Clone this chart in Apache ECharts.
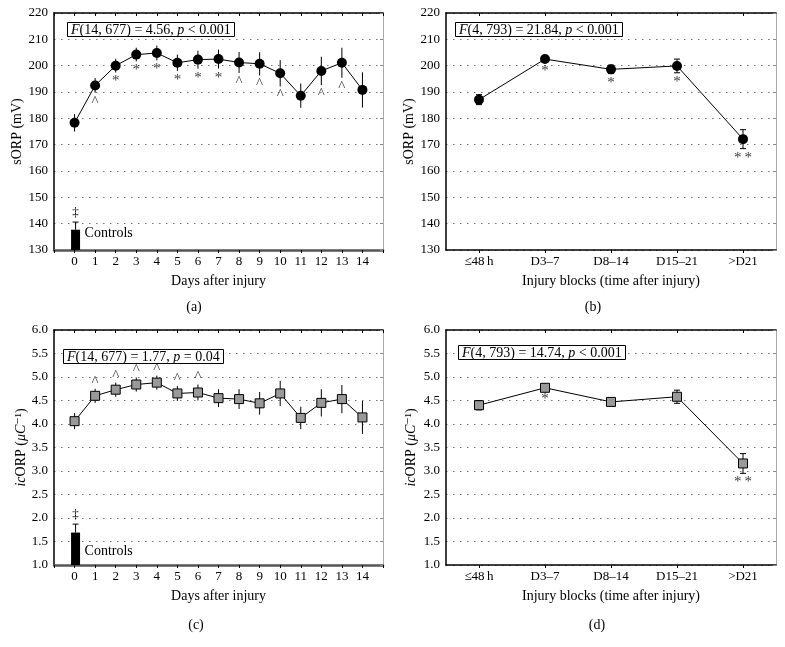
<!DOCTYPE html>
<html><head><meta charset="utf-8">
<script src="https://cdn.jsdelivr.net/npm/echarts@6/dist/echarts.min.js"></script>
<style>html,body{margin:0;padding:0;background:#fff}#c{width:785px;height:647px}</style>
</head><body><div id="c"></div>
<script>
// ---------- data ----------
const dayTicks = [0,1,2,3,4,5,6,7,8,9,10,11,12,13,14];
const blockLabels = ['\u226448\u2009h','D3\u20137','D8\u201314','D15\u201321','>D21'];

const sorpDays    = [178.3,192.5,200.0,204.2,204.8,201.1,202.3,202.5,201.2,200.7,197.1,188.6,198.0,201.1,190.8];
const sorpDaysErr = [3.3,2.8,2.6,2.6,2.8,3.1,3.4,3.6,4.0,4.4,5.0,4.6,5.4,5.7,6.7];
const sorpDaysMarks = ['','^','*','*','*','*','*','*','^','^','^','','^','^',''];
const sorpControl = 137.7, sorpControlErr = 2.9;

const sorpBlocks    = [187.1,202.5,198.6,199.9,172.1];
const sorpBlocksErr = [1.9,1.0,1.6,2.6,3.6];
const sorpBlocksMarks = ['','*','*','*','*\u2009*'];

const icorpDays    = [4.06,4.60,4.73,4.84,4.88,4.65,4.67,4.55,4.53,4.44,4.65,4.13,4.45,4.53,4.14];
const icorpDaysErr = [0.17,0.15,0.15,0.15,0.15,0.16,0.17,0.19,0.21,0.24,0.27,0.24,0.29,0.30,0.35];
const icorpDaysMarks = ['','^','^','^','^','^','^','','','','','','','',''];
const icorpControl = 1.69, icorpControlErr = 0.18;

const icorpBlocks    = [4.40,4.77,4.47,4.58,3.16];
const icorpBlocksErr = [0.10,0.04,0.06,0.14,0.21];
const icorpBlocksMarks = ['','*','','','*\u2009*'];

const statsText = [
  '{i|F}(14, 677) = 4.56, {i|p} < 0.001',
  '{i|F}(4, 793) = 21.84, {i|p} < 0.001',
  '{i|F}(14, 677) = 1.77, {i|p} = 0.04',
  '{i|F}(4, 793) = 14.74, {i|p} < 0.001'
];
const panelLetters = ['(a)','(b)','(c)','(d)'];

// ---------- styling ----------
const FONT = '"Liberation Serif", "DejaVu Serif", serif';
const chart = echarts.init(document.getElementById('c'));

const grids = [
  {left:54, top:13, width:329, height:237},
  {left:446, top:13, width:330, height:237},
  {left:54, top:330, width:329, height:235},
  {left:446, top:330, width:330, height:235}
];

const splitLine = {show:true, lineStyle:{color:'#777', width:1.2, type:[1.5,5.5]}};
const labelStyle = {color:'#000', fontFamily:FONT, fontSize:13};

const xAxes = [], yAxes = [];
[0,1,2,3].forEach(g => {
  const isDays = (g % 2 === 0);
  const base = isDays
    ? {type:'value', min:-1, max:15, interval:1}
    : {type:'category', data:blockLabels, boundaryGap:true};
  xAxes.push(Object.assign({}, base, {
    gridIndex:g, position:'bottom',
    name: isDays ? 'Days after injury' : 'Injury blocks (time after injury)',
    nameLocation:'middle', nameGap:24,
    nameTextStyle:{color:'#000', fontFamily:FONT, fontSize:14},
    axisLine:{show:true, onZero:false, lineStyle:{color: isDays ? '#555' : '#000', width: isDays ? 2.5 : 1.5}},
    axisTick:{show:true, inside:false, length:3, alignWithLabel:true, lineStyle:{color:'#000'}},
    axisLabel:Object.assign({margin:5, showMinLabel:true, showMaxLabel:true, interval:0,
      formatter: isDays ? (v => (v >= 0 && v <= 14) ? String(v) : '') : (v => v)}, labelStyle),
    splitLine:{show:false}
  }));
  xAxes.push(Object.assign({}, base, {
    gridIndex:g, position:'top',
    axisLine:{show:true, onZero:false, lineStyle:{color:'#000', width:1.5}},
    axisTick:{show:true, inside:true, length:3, alignWithLabel:true, lineStyle:{color:'#000'}},
    axisLabel:{show:false}, splitLine:{show:false}
  }));
  const isSorp = g < 2;
  const yb = isSorp ? {min:130, max:220, interval:10} : {min:1, max:6, interval:0.5};
  yAxes.push(Object.assign({type:'value', gridIndex:g, position:'left'}, yb, {
    name: isSorp ? 'sORP (mV)' : '{i|ic}ORP ({i|\u03bcC}\u207b\u00b9)',
    nameLocation:'middle', nameGap: isDays ? 20 : 28, nameRotate:90,
    nameTextStyle:{color:'#000', fontFamily:FONT, fontSize:14,
      rich:{i:{fontStyle:'italic', fontFamily:FONT, fontSize:14, color:'#000'}}},
    axisLine:{show:true, onZero:false, lineStyle:{color:'#000', width:1.5}},
    axisTick:{show:false},
    axisLabel:Object.assign({margin:6, formatter: isSorp ? (v => String(v)) : (v => v.toFixed(1))}, labelStyle),
    splitLine: splitLine
  }));
  yAxes.push(Object.assign({type:'value', gridIndex:g, position:'right'}, yb, {
    axisLine:{show:true, onZero:false, lineStyle:{color:'#aaa', width:1}},
    axisTick:{show:true, inside:true, length:3, lineStyle:{color:'#888'}},
    axisLabel:{show:false}, splitLine:{show:false}
  }));
});

function errRender(cap){
  return function(params, api){
    const x = api.value(0), y = api.value(1), e = api.value(2);
    const t = api.coord([x, y + e]), b = api.coord([x, y - e]);
    const st = {stroke:'#000', lineWidth:1};
    const ch = [{type:'line', shape:{x1:t[0], y1:t[1], x2:b[0], y2:b[1]}, style:st}];
    if (cap > 0) {
      ch.push({type:'line', shape:{x1:t[0]-cap/2, y1:t[1], x2:t[0]+cap/2, y2:t[1]}, style:st});
      ch.push({type:'line', shape:{x1:b[0]-cap/2, y1:b[1], x2:b[0]+cap/2, y2:b[1]}, style:st});
    }
    return {type:'group', children:ch};
  };
}

function ctrlRender(labelUp){
  return function(params, api){
    const v = api.value(1), e = api.value(2);
    const top = api.coord([0, v]);
    const etop = api.coord([0, v + e]);
    const bottom = params.coordSys.y + params.coordSys.height;
    const cx = top[0] + 1;
    return {type:'group', children:[
      {type:'rect', shape:{x:cx-4.5, y:top[1], width:9, height:bottom-top[1]}, style:{fill:'#000'}},
      {type:'line', shape:{x1:cx, y1:top[1], x2:cx, y2:etop[1]}, style:{stroke:'#000', lineWidth:1}},
      {type:'line', shape:{x1:cx-3, y1:etop[1], x2:cx+3, y2:etop[1]}, style:{stroke:'#000', lineWidth:1}},
      {type:'text', x:cx, y:etop[1]-10, style:{text:'\u2021', textAlign:'center', textVerticalAlign:'middle', fill:'#000', font:'13px ' + FONT}},
      {type:'text', x:cx+9, y:bottom-labelUp, style:{text:'Controls', textAlign:'left', textVerticalAlign:'middle', fill:'#000', font:'14px ' + FONT}}
    ]};
  };
}

const series = [];
function addPanel(g, vals, errs, marks, marksAbove, cap, round){
  const xi = g*2, yi = g*2;
  series.push({type:'custom', xAxisIndex:xi, yAxisIndex:yi, z:2, silent:true,
    renderItem: errRender(cap), encode:{x:0, y:1},
    data: vals.map((v,i) => [i, v, errs[i]])});
  series.push({type:'line', xAxisIndex:xi, yAxisIndex:yi, z:3, silent:true,
    data: vals.map((v,i) => [i, v]),
    lineStyle:{color:'#000', width:1},
    symbol: round ? 'circle' : 'rect', symbolSize: round ? 10 : 9,
    itemStyle: round ? {color:'#000'} : {color:'#999', borderColor:'#000', borderWidth:1}});
  series.push({type:'scatter', xAxisIndex:xi, yAxisIndex:yi, z:4, silent:true,
    symbolSize:1, itemStyle:{color:'rgba(0,0,0,0)'},
    data: vals.map((v,i) => ({value:[i, marksAbove ? v + errs[i] : v - errs[i]],
      label:{show: !!marks[i], formatter: marks[i] || ''}})),
    label:{position: marksAbove ? 'top' : 'bottom', distance: marksAbove ? -1 : 1,
      color:'#000', fontFamily:FONT, fontSize:15}});
}
addPanel(0, sorpDays, sorpDaysErr, sorpDaysMarks, false, 0, true);
addPanel(1, sorpBlocks, sorpBlocksErr, sorpBlocksMarks, false, 6, true);
addPanel(2, icorpDays, icorpDaysErr, icorpDaysMarks, true, 0, false);
addPanel(3, icorpBlocks, icorpBlocksErr, icorpBlocksMarks, false, 6, false);

series.push({type:'custom', xAxisIndex:0, yAxisIndex:0, z:2, silent:true,
  renderItem: ctrlRender(17), encode:{x:0, y:1}, data:[[0, sorpControl, sorpControlErr]]});
series.push({type:'custom', xAxisIndex:4, yAxisIndex:4, z:2, silent:true,
  renderItem: ctrlRender(14), encode:{x:0, y:1}, data:[[0, icorpControl, icorpControlErr]]});

const statsPos = [[67,22],[455,22],[63,349],[458,345]];
const titles = statsText.map((t,i) => ({
  text:t, left:statsPos[i][0], top:statsPos[i][1], padding:[1,4,0,4],
  borderColor:'#000', borderWidth:1, backgroundColor:'#fff',
  textStyle:{color:'#000', fontFamily:FONT, fontSize:14, fontWeight:'normal',
    rich:{i:{fontStyle:'italic', fontFamily:FONT, fontSize:14, color:'#000'}}}
}));

const letterPos = [[194,307],[593,307],[196,625],[597,625]];
const graphic = panelLetters.map((t,i) => ({
  type:'text', x:letterPos[i][0], y:letterPos[i][1], silent:true,
  style:{text:t, textAlign:'center', textVerticalAlign:'middle', fill:'#000', font:'14px ' + FONT}
}));

chart.setOption({
  animation:false,
  backgroundColor:'#fff',
  title: titles,
  grid: grids,
  xAxis: xAxes,
  yAxis: yAxes,
  series: series,
  graphic: graphic
});
</script></body></html>
